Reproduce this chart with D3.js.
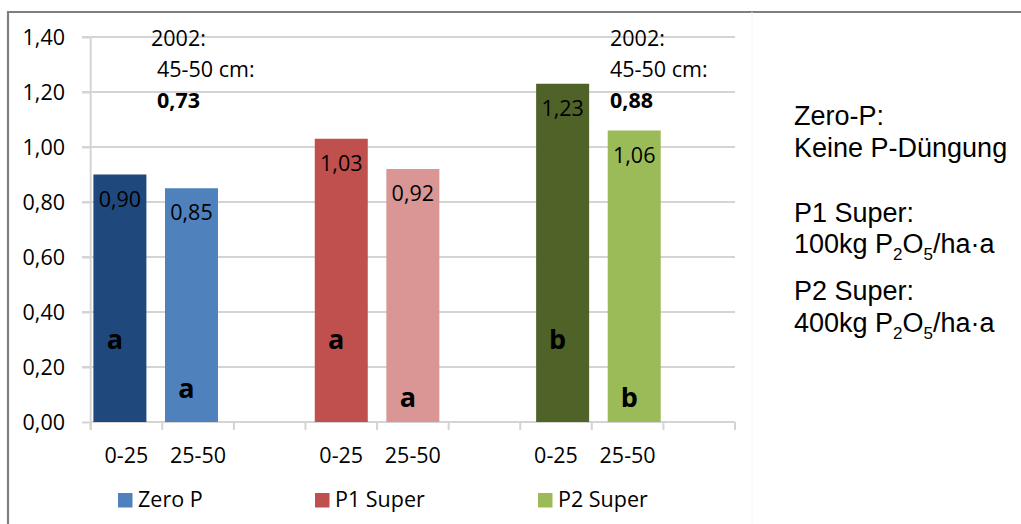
<!DOCTYPE html>
<html>
<head>
<meta charset="utf-8">
<script src="https://cdn.jsdelivr.net/npm/d3@7"></script>
<style>
  html, body { margin: 0; padding: 0; background: #fff; }
  svg { display: block; }
</style>
</head>
<body>
<svg id="chart" width="1021" height="524"></svg>
<script>
// Soil depth classes (cm); every third slot is an empty spacer between treatments
const categories = ["0-25", "25-50", "", "0-25", "25-50", "", "0-25", "25-50", ""];
const seriesNames = ["Zero P", "P1 Super", "P2 Super"];
const zeroP   = [0.90, 0.85, null, null, null, null, null, null, null];
const p1Super = [null, null, null, 1.03, 0.92, null, null, null, null];
const p2Super = [null, null, null, null, null, null, 1.23, 1.06, null];
// Significance letters per bar
const zeroPSig   = ["a", "a", null, null, null, null, null, null, null];
const p1SuperSig = [null, null, null, "a", "a", null, null, null, null];
const p2SuperSig = [null, null, null, null, null, null, "b", "b", null];
// 2002 reference values at 45-50 cm
const note2002Labels = ["2002:", "45-50 cm:"];
const note2002Values = [0.73, 0.88];
const yTicks = [0, 0.2, 0.4, 0.6, 0.8, 1.0, 1.2, 1.4];
const sideNotes = [
  ["Zero-P:", "Keine P-Düngung"],
  ["P1 Super:", "100kg P|2|O|5|/ha·a"],
  ["P2 Super:", "400kg P|2|O|5|/ha·a"]
];

// Colours: series colour, then darker shade for 0-25 and lighter shade for 25-50
const seriesColors = ["#4f81bd", "#c0504d", "#9bbb59"];
const depthColors = [
  ["#1f497d", "#4f81bd"],
  ["#c0504d", "#d99694"],
  ["#4f6228", "#9bbb59"]
];

const svg = d3.select("#chart");
const chartFont = "'Open Sans', Lato, sans-serif";
const textColor = "#000";
const fontSize = 21.5;
const locale = d3.formatLocale({ decimal: ",", thousands: ".", grouping: [3], currency: ["", " €"] });
const fmt = locale.format(".2f");

const plotLeft = 90.7, plotRight = 735, plotTop = 37, plotBottom = 422;
const x = d3.scaleBand().domain(d3.range(categories.length)).range([plotLeft, plotRight]).paddingInner(0).paddingOuter(0);
const y = d3.scaleLinear().domain([0, 1.4]).range([plotBottom, plotTop]);
const barW = 53;
const seriesShift = d3.scalePoint().domain(seriesNames).range([-6.6, 6.6]);
const gridColor = "#d4d4d4";

// Outer frame
svg.append("path")
  .attr("d", "M8,524 L8,12 L1021,12")
  .attr("fill", "none").attr("stroke", "#7f7f7f").attr("stroke-width", 2.2);
svg.append("line")
  .attr("x1", 752).attr("x2", 752).attr("y1", 12).attr("y2", 524)
  .attr("stroke", "#f6f6f6").attr("stroke-width", 1);

// Gridlines
svg.append("g").selectAll("line").data(yTicks.slice(1)).join("line")
  .attr("x1", 82).attr("x2", plotRight)
  .attr("y1", d => y(d)).attr("y2", d => y(d))
  .attr("stroke", gridColor).attr("stroke-width", 2);

// Y axis
const yAxis = svg.append("g").attr("transform", `translate(${plotLeft},0)`)
  .call(d3.axisLeft(y).tickValues(yTicks).tickFormat(fmt).tickSize(8.7).tickPadding(17));
yAxis.select(".domain").attr("d", `M0,${plotTop}V${plotBottom + 8}`).attr("stroke", gridColor).attr("stroke-width", 2);
yAxis.selectAll(".tick line").attr("stroke", gridColor).attr("stroke-width", 2);
yAxis.selectAll(".tick text")
  .attr("font-family", chartFont).attr("font-size", fontSize).attr("fill", textColor).attr("dy", "0.36em");

// X axis: ticks at slot boundaries, labels at slot centres
const xAxis = svg.append("g").attr("transform", `translate(0,${plotBottom})`);
xAxis.append("line").attr("x1", plotLeft).attr("x2", plotRight).attr("y1", 0).attr("y2", 0)
  .attr("stroke", gridColor).attr("stroke-width", 2);
xAxis.selectAll("line.tk").data(d3.range(categories.length + 1)).join("line").attr("class", "tk")
  .attr("x1", i => plotLeft + i * x.step()).attr("x2", i => plotLeft + i * x.step())
  .attr("y1", 0).attr("y2", 8)
  .attr("stroke", gridColor).attr("stroke-width", 2);
xAxis.selectAll("text").data(categories.map((c, i) => ({ c, i }))).join("text")
  .attr("x", d => x(d.i) + x.bandwidth() / 2).attr("y", 41)
  .attr("text-anchor", "middle")
  .attr("font-family", chartFont).attr("font-size", fontSize).attr("fill", textColor)
  .text(d => d.c);

// Bars
const seriesValues = [zeroP, p1Super, p2Super];
const seriesSig = [zeroPSig, p1SuperSig, p2SuperSig];
const bars = [];
seriesValues.forEach((vals, s) => {
  vals.forEach((v, i) => {
    if (v == null) return;
    const depth = categories[i] === "0-25" ? 0 : 1;
    bars.push({ s, i, v, depth, sig: seriesSig[s][i],
      cx: x(i) + x.bandwidth() / 2 + seriesShift(seriesNames[s]) });
  });
});

const barG = svg.append("g");
barG.selectAll("rect").data(bars).join("rect")
  .attr("x", d => d.cx - barW / 2).attr("width", barW)
  .attr("y", d => y(d.v)).attr("height", d => y(0) - y(d.v))
  .attr("fill", d => depthColors[d.s][d.depth]);

// Value labels inside bar tops
barG.selectAll("text.val").data(bars).join("text").attr("class", "val")
  .attr("x", d => d.cx).attr("y", d => y(d.v) + 32)
  .attr("text-anchor", "middle")
  .attr("font-family", chartFont).attr("font-size", fontSize).attr("fill", textColor)
  .text(d => fmt(d.v));

// Significance letters
const sigBaseline = (d) => d.depth === 0 ? 349 : (d.s === 0 ? 398 : 407);
barG.selectAll("text.sig").data(bars).join("text").attr("class", "sig")
  .attr("x", d => d.cx - 5).attr("y", sigBaseline)
  .attr("text-anchor", "middle")
  .attr("font-family", chartFont).attr("font-size", 27).attr("font-weight", "bold").attr("fill", "#000")
  .text(d => d.sig);

// 2002 notes
const noteLeft = [[151, 157], [610, 610]];
note2002Values.forEach((v, k) => {
  const g = svg.append("g").attr("font-family", chartFont).attr("font-size", fontSize).attr("fill", textColor);
  g.append("text").attr("x", noteLeft[k][0]).attr("y", 45.5).text(note2002Labels[0]);
  g.append("text").attr("x", noteLeft[k][1]).attr("y", 77).text(note2002Labels[1]);
  g.append("text").attr("x", noteLeft[k][1]).attr("y", 108).attr("font-weight", "bold").text(fmt(v));
});

// Legend
const legendX = [118, 315, 538];
const legend = svg.append("g");
seriesNames.forEach((name, s) => {
  legend.append("rect").attr("x", legendX[s]).attr("y", 493).attr("width", 14.5).attr("height", 14.5)
    .attr("fill", seriesColors[s]);
  legend.append("text").attr("x", legendX[s] + 20).attr("y", 507)
    .attr("font-family", chartFont).attr("font-size", fontSize).attr("fill", textColor).text(name);
});

// Treatment descriptions
const side = svg.append("g").attr("font-family", "'Liberation Sans', Arial, sans-serif").attr("font-size", 27).attr("fill", "#000");
const sideBaselines = [[125, 157], [222, 253], [300, 332]];
sideNotes.forEach((lines, k) => {
  lines.forEach((line, j) => {
    const t = side.append("text").attr("x", 794).attr("y", sideBaselines[k][j]);
    const parts = line.split("|");
    parts.forEach((p, n) => {
      const isSub = n % 2 === 1;
      t.append("tspan")
        .attr("font-size", isSub ? 17 : 27)
        .attr("dy", isSub ? 7 : (n > 0 ? -7 : 0))
        .text(p);
    });
  });
});
</script>
</body>
</html>
